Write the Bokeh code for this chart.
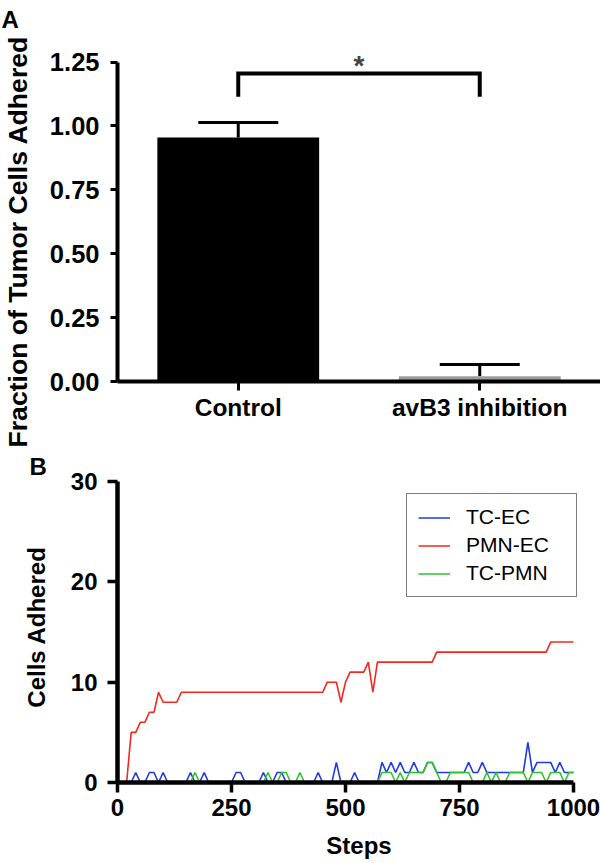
from bokeh.plotting import figure
from bokeh.models import (ColumnDataSource, FixedTicker, NumeralTickFormatter, Whisker, TeeHead,
                          Label, Legend, LegendItem, Range1d, FactorRange, Title)
from bokeh.layouts import column
from bokeh.embed import file_html
from bokeh.resources import INLINE

FONT = "Liberation Sans"

# ---------------- Panel A data ----------------
groups = ["Control", "avB3 inhibition"]
fraction_mean = [0.955, 0.021]
fraction_err = [0.058, 0.046]
bar_colors = ["#000000", "#9c9c9c"]
a_ticks = [0.0, 0.25, 0.5, 0.75, 1.0, 1.25]
sig_y = 1.205
sig_leg = 1.114
sig_text = "*"
a_ylabel = "Fraction of Tumor Cells Adhered"

# ---------------- Panel B data ----------------
steps = list(range(0, 1001, 10))
tc_ec = [0, 0, 0, 0, 1, 0, 0, 1, 1, 0,
         1, 0, 0, 0, 0, 0, 1, 0, 0, 1,
         0, 0, 0, 0, 0, 0, 1, 1, 0, 0,
         0, 0, 1, 0, 0, 1, 1, 0, 0, 0,
         0, 0, 0, 0, 1, 0, 0, 0, 2, 0,
         0, 0, 1, 0, 0, 0, 0, 0, 2, 1,
         2, 1, 2, 1, 1, 2, 1, 1, 2, 2,
         1, 1, 1, 1, 1, 1, 1, 2, 1, 1,
         2, 1, 1, 1, 1, 1, 1, 1, 1, 1,
         4, 1, 2, 2, 2, 2, 1, 2, 1, 1,
         1]
pmn_ec = [0, 0, 0, 5, 5, 6, 6, 7, 7, 9,
          8, 8, 8, 8, 9, 9, 9, 9, 9, 9,
          9, 9, 9, 9, 9, 9, 9, 9, 9, 9,
          9, 9, 9, 9, 9, 9, 9, 9, 9, 9,
          9, 9, 9, 9, 9, 9, 10, 10, 10, 8,
          10, 11, 11, 11, 11, 12, 9, 12, 12, 12,
          12, 12, 12, 12, 12, 12, 12, 12, 12, 12,
          13, 13, 13, 13, 13, 13, 13, 13, 13, 13,
          13, 13, 13, 13, 13, 13, 13, 13, 13, 13,
          13, 13, 13, 13, 13, 14, 14, 14, 14, 14,
          14]
tc_pmn = [0, 0, 0, 0, 0, 0, 0, 0, 0, 0,
          0, 0, 0, 0, 0, 0, 0, 1, 0, 0,
          0, 0, 0, 0, 0, 0, 0, 0, 0, 0,
          0, 0, 0, 1, 0, 0, 1, 1, 0, 0,
          1, 0, 0, 0, 0, 0, 0, 0, 0, 0,
          0, 0, 0, 0, 0, 0, 0, 0, 1, 1,
          1, 0, 1, 0, 1, 1, 1, 1, 2, 2,
          1, 0, 0, 1, 1, 1, 1, 1, 0, 0,
          0, 1, 0, 1, 0, 0, 1, 1, 1, 1,
          0, 1, 1, 1, 0, 1, 1, 1, 0, 1,
          1]
series_names = ["TC-EC", "PMN-EC", "TC-PMN"]
series_colors = ["#2238e6", "#f2291e", "#2ec42e"]
b_xticks = [0, 250, 500, 750, 1000]
b_yticks = [0, 10, 20, 30]


def style_common(p):
    p.xgrid.grid_line_color = None
    p.ygrid.grid_line_color = None
    p.outline_line_color = None
    p.background_fill_color = "white"
    p.border_fill_color = "white"


# ================= Panel A =================
pA = figure(width=600, height=452, x_range=FactorRange(*groups), y_range=Range1d(0, 1.35),
            output_backend="svg", toolbar_location=None,
            min_border_left=117, min_border_right=0, min_border_top=36, min_border_bottom=71)
style_common(pA)

srcA = ColumnDataSource(dict(group=groups, mean=fraction_mean,
                             upper=[m + e for m, e in zip(fraction_mean, fraction_err)],
                             color=bar_colors))
pA.vbar(x="group", top="mean", width=0.67, fill_color="color", line_color=None, source=srcA)
wh = Whisker(source=srcA, base="group", lower="mean", upper="upper", dimension="height",
             line_width=3, line_color="black",
             upper_head=TeeHead(size=80, line_width=3, line_color="black"), lower_head=None)
pA.add_layout(wh)

pA.line(x=[groups[0], groups[0], groups[1], groups[1]], y=[sig_leg, sig_y, sig_y, sig_leg],
        line_width=4, line_color="black", line_join="miter")
pA.add_layout(Label(x=1.0, y=1.235, text=sig_text, text_font=FONT, text_font_size="28px",
                    text_font_style="bold", text_align="center", text_baseline="middle"))

pA.yaxis.ticker = FixedTicker(ticks=a_ticks)
pA.yaxis.formatter = NumeralTickFormatter(format="0.00")
pA.yaxis.bounds = (0, 1.25)
for ax in (pA.xaxis, pA.yaxis):
    ax.axis_line_width = 4
    ax.axis_line_color = "black"
    ax.major_tick_line_width = 3
    ax.major_tick_in = 0
    ax.minor_tick_line_color = None
    ax.major_label_text_font = FONT
    ax.major_label_text_font_style = "bold"
    ax.major_label_text_color = "black"
pA.yaxis.major_tick_out = 7
pA.yaxis.major_label_standoff = 11
pA.yaxis.major_label_text_font_size = "25.5px"
pA.xaxis.major_tick_out = 9
pA.xaxis.major_label_standoff = 3
pA.xaxis.major_label_text_font_size = "24.5px"

# spacer keeps the rotated axis title at the far left edge
spacer = Title(text=" ", text_font_size="1px", standoff=11)
pA.add_layout(spacer, "left")
ttl_ylab = Title(text=a_ylabel, align="left", offset=-66, standoff=0,
                 text_font=FONT, text_font_size="26.6px", text_font_style="bold", text_color="black")
pA.add_layout(ttl_ylab, "left")
ttl_A = Title(text="A", align="left", offset=-116, standoff=7,
              text_font=FONT, text_font_size="24px", text_font_style="bold", text_color="black")
pA.add_layout(ttl_A, "above")

# ================= Panel B =================
# frame spans to the right page edge; the axis itself is bounded to 0..1000
b_x_end = 1000 * 483 / 456
pB = figure(width=600, height=411, x_range=Range1d(0, b_x_end), y_range=Range1d(0, 31),
            output_backend="svg", toolbar_location=None,
            min_border_left=117, min_border_right=0, min_border_top=19, min_border_bottom=81)
style_common(pB)

srcB = ColumnDataSource(dict(step=steps, tc_ec=tc_ec, pmn_ec=pmn_ec, tc_pmn=tc_pmn))
r_blue = pB.line("step", "tc_ec", source=srcB, line_color=series_colors[0], line_width=1.6)
r_red = pB.line("step", "pmn_ec", source=srcB, line_color=series_colors[1], line_width=1.6)
r_green = pB.line("step", "tc_pmn", source=srcB, line_color=series_colors[2], line_width=1.6)

legend = Legend(items=[LegendItem(label=series_names[0], renderers=[r_blue]),
                       LegendItem(label=series_names[1], renderers=[r_red]),
                       LegendItem(label=series_names[2], renderers=[r_green])],
                location=(289, 185))
legend.label_text_font = FONT
legend.label_text_font_size = "21px"
legend.label_text_color = "black"
legend.glyph_width = 32
legend.glyph_height = 21
legend.label_height = 21
legend.label_width = 99
legend.label_standoff = 16
legend.spacing = 4
legend.padding = 11
legend.margin = 0
legend.border_line_color = "black"
legend.border_line_width = 1.5
legend.background_fill_color = "white"
legend.background_fill_alpha = 1.0
pB.add_layout(legend)

pB.xaxis.ticker = FixedTicker(ticks=b_xticks)
pB.xaxis.bounds = (0, 1000)
pB.yaxis.ticker = FixedTicker(ticks=b_yticks)
pB.yaxis.bounds = (0, 30)
for ax in (pB.xaxis, pB.yaxis):
    ax.axis_line_width = 4.5
    ax.axis_line_color = "black"
    ax.major_tick_line_width = 3.5
    ax.major_tick_in = 0
    ax.major_tick_out = 10
    ax.minor_tick_line_color = None
    ax.major_label_text_font = FONT
    ax.major_label_text_font_style = "bold"
    ax.major_label_text_font_size = "24px"
    ax.major_label_text_color = "black"
    ax.axis_label_text_font = FONT
    ax.axis_label_text_font_style = "bold"
    ax.axis_label_text_font_size = "24px"
    ax.axis_label_text_color = "black"
pB.yaxis.major_label_standoff = 10
pB.yaxis.axis_label = "Cells Adhered"
pB.yaxis.axis_label_standoff = 18
pB.xaxis.major_label_standoff = 6
pB.xaxis.axis_label = "Steps"
pB.xaxis.axis_label_standoff = 13

ttl_B = Title(text="B", align="left", offset=-88, standoff=0,
              text_font=FONT, text_font_size="24px", text_font_style="bold", text_color="black")
try:
    ttl_B.standoff = -16
except ValueError:
    ttl_B.standoff = 0
pB.add_layout(ttl_B, "above")

layout = column(pA, pB, spacing=0)
open("out.html", "w").write(file_html(layout, INLINE))
